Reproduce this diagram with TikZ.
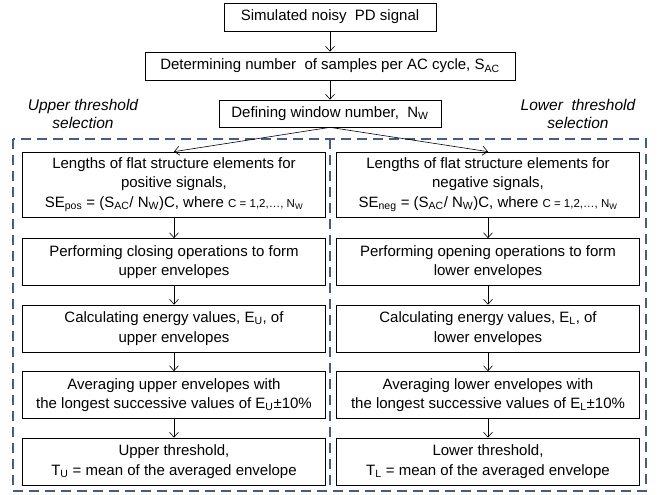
\documentclass[tikz,border=0pt]{standalone}
\usepackage{fontspec}
\setmainfont{Liberation Sans}
\usetikzlibrary{arrows.meta}
\definecolor{groupblue}{HTML}{3D5F8C}

\begin{document}
\begin{tikzpicture}[x=1pt, y=-1pt,
	stepbox/.style={draw, line width=0.7pt, align=center, inner sep=0pt, font=\fontsize{15}{19.5}\selectfont},
	colbox/.style={stepbox, minimum width=303pt, minimum height=47pt},
	flow/.style={-{Straight Barb[length=5pt, width=9pt]}, line width=0.6pt},
	group/.style={draw=groupblue, line width=2.6pt, dash pattern=on 10pt off 6pt},
	side/.style={align=center, font=\fontsize{15.5}{18}\selectfont\itshape}]

	\useasboundingbox (0,0) rectangle (664,495);

	% dashed frames of the two selections
	\draw[group] (13,139) rectangle (646,491);
	\draw[group] (330,139) -- (330,491);

	\node[stepbox, minimum width=212pt, minimum height=28pt] (signal) at (330,17) {Simulated noisy\ \ PD signal};
	\node[stepbox, minimum width=370pt, minimum height=28pt] (samples) at (330,66) {Determining number\ \ of samples per AC cycle, S\textsubscript{AC}};
	\node[stepbox, minimum width=222pt, minimum height=27pt] (window) at (330,113.5) {Defining window number,\ \ N\textsubscript{W}};

	\node[side] (upper) at (83,114) {Upper threshold\\selection};
	\node[side] (lower) at (578,114) {Lower\ \ threshold\\selection};

	% upper threshold column
	\node[colbox, minimum height=65pt] (lenpos) at (174,184.5) {Lengths of flat structure elements for\\positive signals,\\SE\textsubscript{pos} = (S\textsubscript{AC}/ N\textsubscript{W})C, where {\fontsize{11.5}{13}\selectfont C = 1,2,…, N\textsubscript{W}}};
	\node[colbox] (closing) at (174,262) {Performing closing operations to form\\upper envelopes};
	\node[colbox] (energyU) at (174,328.5) {Calculating energy values, E\textsubscript{U}, of\\upper envelopes};
	\node[colbox] (avgU) at (174,395) {Averaging upper envelopes with\\the longest successive values of E\textsubscript{U}±10\%};
	\node[colbox] (threshU) at (174,461.5) {Upper threshold,\\T\textsubscript{U} = mean of the averaged envelope};

	% lower threshold column
	\node[colbox] (lenneg) at (488,184.5) [minimum height=65pt] {Lengths of flat structure elements for\\negative signals,\\SE\textsubscript{neg} = (S\textsubscript{AC}/ N\textsubscript{W})C, where {\fontsize{11.5}{13}\selectfont C = 1,2,…, N\textsubscript{W}}};
	\node[colbox] (opening) at (488,262) {Performing opening operations to form\\lower envelopes};
	\node[colbox] (energyL) at (488,328.5) {Calculating energy values, E\textsubscript{L}, of\\lower envelopes};
	\node[colbox] (avgL) at (488,395) {Averaging lower envelopes with\\the longest successive values of E\textsubscript{L}±10\%};
	\node[colbox] (threshL) at (488,461.5) {Lower threshold,\\T\textsubscript{L} = mean of the averaged envelope};

	\draw[flow] (signal) -- (samples);
	\draw[flow] (samples) -- (window);
	\draw[flow] (window.south) -- (lenpos.north);
	\draw[flow] (window.south) -- (lenneg.north);

	\foreach \a/\b in {lenpos/closing, closing/energyU, energyU/avgU, avgU/threshU, lenneg/opening, opening/energyL, energyL/avgL, avgL/threshL}
		\draw[flow] (\a) -- (\b);

\end{tikzpicture}
\end{document}
